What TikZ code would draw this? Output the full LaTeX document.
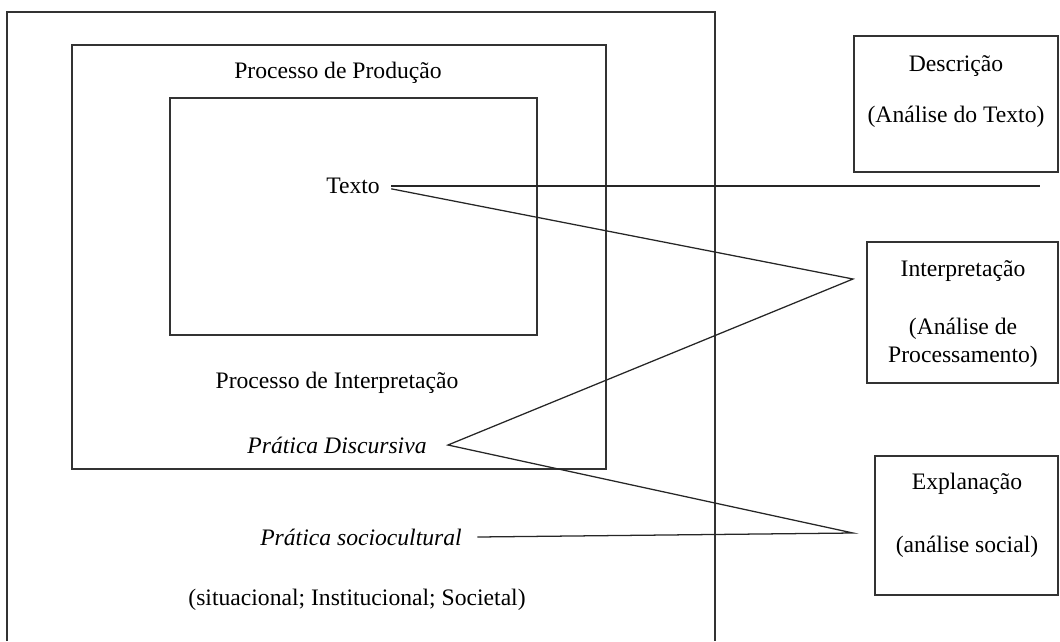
\documentclass[tikz,border=0pt]{standalone}
\usepackage{fontspec}
\setmainfont{Liberation Serif}
\usepackage{tikz}
\usetikzlibrary{positioning}

\begin{document}
\begin{tikzpicture}[
x=0.025cm, y=-0.025cm,
frame/.style={draw=black!80, line width=0.9pt, inner sep=0pt},
label/.style={font=\fontsize{16.8}{20}\selectfont, inner sep=4pt},
link/.style={draw=black!85, line width=0.9pt}
]
\useasboundingbox (0,0) rectangle (1060,641);
% outer frame (open at the bottom)
\draw[black!80, line width=0.9pt] (7,641) -- (7,12) -- (715,12) -- (715,641);
% nested boxes on the left
\node[frame, minimum width=13.35cm, minimum height=10.6cm] (producao) at (339,257) {};
\node[frame, minimum width=9.175cm, minimum height=5.925cm] (textbox) at (353.5,216.5) {};
\node[label] (procprod) at (338,73) {Processo de Produção};
\node[label] (texto) at (353,186) {Texto};
\node[label] (procint) at (337,383) {Processo de Interpretação};
\node[label, font=\fontsize{16.8}{20}\selectfont\itshape] (discursiva) at (337,445) {Prática Discursiva};
\node[label, font=\fontsize{16.8}{20}\selectfont\itshape] (socio) at (361,537) {Prática sociocultural};
\node[label] (niveis) at (357,600) {(situacional; Institucional; Societal)};
% boxes on the right
\node[frame, minimum width=5.1cm, minimum height=3.4cm] (descricao) at (956,104) {};
\node[label] (descT) at (956,66) {Descrição};
\node[label] (descS) at (956,117) {(Análise do Texto)};
\node[frame, minimum width=4.775cm, minimum height=3.525cm] (interp) at (962.5,312.5) {};
\node[label] (intT) at (963,271) {Interpretação};
\node[label, align=center] (intS) at (963,343) {(Análise de\\Processamento)};
\node[frame, minimum width=4.575cm, minimum height=3.475cm] (explan) at (966.5,525.5) {};
\node[label] (expT) at (967,484) {Explanação};
\node[label] (expS) at (967,547) {(análise social)};
% connectors
\coordinate (descEnd) at (1040,186);
\coordinate (intTip) at (853,279);
\coordinate (expTip) at (853,533);
\draw[link] ([xshift=4pt]texto.east) -- (descEnd);
\draw[link] ([xshift=4pt,yshift=-2pt]texto.east) -- (intTip) -- ([xshift=11pt]discursiva.east) -- (expTip) -- ([xshift=7pt]socio.east);
\end{tikzpicture}
\end{document}
